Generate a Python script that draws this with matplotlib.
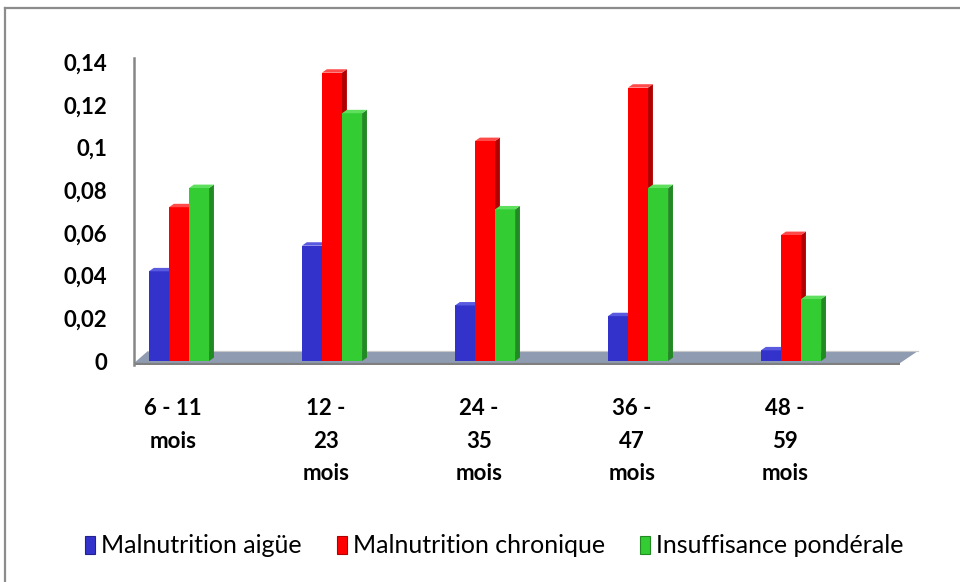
import numpy as np
import matplotlib.pyplot as plt
from matplotlib.patches import Polygon, Patch
from matplotlib.lines import Line2D
from matplotlib.transforms import ScaledTranslation

plt.rcParams['font.family'] = ['Lato', 'DejaVu Sans']

groups = ['6 - 11\nmois', '12 -\n23\nmois', '24 -\n35\nmois', '36 -\n47\nmois', '48 -\n59\nmois']
aigue = [0.042, 0.054, 0.026, 0.021, 0.005]
chronique = [0.072, 0.135, 0.103, 0.128, 0.059]
ponderale = [0.081, 0.116, 0.071, 0.081, 0.029]
series = ['Malnutrition aigüe', 'Malnutrition chronique', 'Insuffisance pondérale']
yticks = [0, 0.02, 0.04, 0.06, 0.08, 0.1, 0.12, 0.14]

front = ['#3333cc', '#ff0000', '#33cc33']
side = ['#22228f', '#b00000', '#228a22']
top = ['#5a5ae0', '#ff4a4a', '#5ee05e']

fig = plt.figure(figsize=(9.6, 5.82), dpi=100)
ax = fig.add_axes([134 / 960, 1 - 365 / 582, 786 / 960, 307 / 582])

# 3d-ish depth of the bars, in data units
w = 0.131
dx = 0.032
dy = 0.0016

x = np.arange(len(groups))
ax.set_xlim(-0.294, 4.843)
ax.set_ylim(-0.00187, 0.14187)

# floor
floor = Polygon([(-0.294, -0.001), (4.712, -0.001), (4.830, 0.0047), (-0.203, 0.0047)],
                closed=True, facecolor='#8e9bb0', edgecolor='none', zorder=1)
ax.add_patch(floor)
ax.plot([-0.294, 4.712], [-0.0012, -0.0012], color='#7f7f7f', lw=1.6, zorder=2,
        solid_capstyle='butt')
ax.plot([-0.203, 4.830], [0.0047, 0.0047], color='#c8c8c8', lw=0.8, zorder=1.5)

for k, vals in enumerate([aigue, chronique, ponderale]):
    xs = x + (k - 1) * w
    ax.bar(xs, vals, width=w, color=front[k], edgecolor='none', zorder=3 + k)
    for xc, h in zip(xs, vals):
        x0, x1 = xc - w / 2, xc + w / 2
        ax.add_patch(Polygon([(x1, 0), (x1 + dx, dy), (x1 + dx, h + dy), (x1, h)],
                             closed=True, facecolor=side[k], edgecolor='none', zorder=3 + k))
        ax.add_patch(Polygon([(x0, h), (x0 + dx, h + dy), (x1 + dx, h + dy), (x1, h)],
                             closed=True, facecolor=top[k], edgecolor='none', zorder=3 + k))

for s in ['top', 'right', 'bottom']:
    ax.spines[s].set_visible(False)
ax.spines['left'].set_color('#868686')
ax.spines['left'].set_linewidth(1.8)

ax.set_yticks(yticks)
ax.set_yticklabels([('%g' % v).replace('.', ',') for v in yticks],
                   fontsize=16, fontweight='bold')
ax.tick_params(axis='y', length=0, pad=19)

ax.set_xticks(x)
ax.set_xticklabels(groups, fontsize=16, fontweight='bold', linespacing=1.68, va='top')
ax.tick_params(axis='x', length=0, pad=24)
shift = ScaledTranslation(-6 / 100, 0, fig.dpi_scale_trans)
for lab in ax.get_xticklabels():
    lab.set_transform(lab.get_transform() + shift)

handles = [Patch(facecolor=front[k], edgecolor=side[k], lw=0.8) for k in range(3)]
fig.legend(handles, series, loc='center', bbox_to_anchor=(0.515, 0.062), ncol=3,
           frameon=False, fontsize=18, handlelength=0.4, handleheight=0.75,
           handletextpad=0.25, columnspacing=1.4)

# outer frame
fig.add_artist(Line2D([5 / 960, 1], [1 - 8 / 582, 1 - 8 / 582], color='#8c8c8c', lw=1.6,
                      transform=fig.transFigure))
fig.add_artist(Line2D([5 / 960, 5 / 960], [0, 1 - 8 / 582], color='#8c8c8c', lw=1.6,
                      transform=fig.transFigure))

fig.savefig('out.png', dpi=100)
